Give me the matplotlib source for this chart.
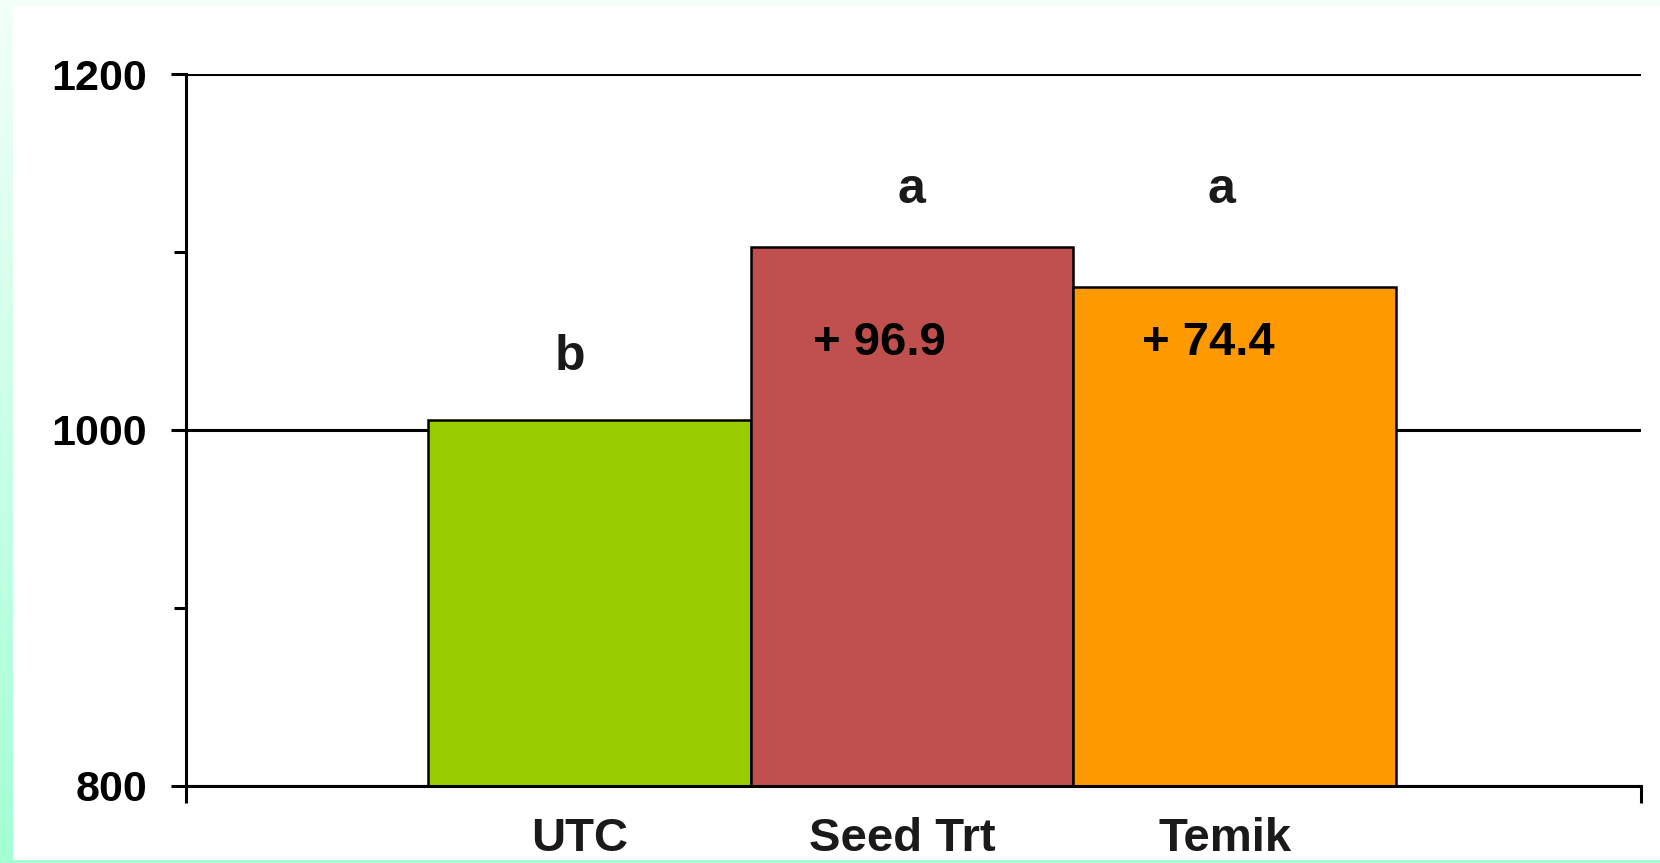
import numpy as np
import matplotlib.pyplot as plt
from matplotlib.patches import Rectangle
from matplotlib.colors import LinearSegmentedColormap

plt.rcParams['font.family'] = ['Liberation Sans', 'DejaVu Sans']
plt.rcParams['font.weight'] = 'bold'

categories = ["UTC", "Seed Trt", "Temik"]
yields = [1005.7, 1102.6, 1080.1]
colors = ["#99CC00", "#C0504D", "#FF9900"]
sig_letters = ["b", "a", "a"]
gains = ["", "+ 96.9", "+ 74.4"]

# text placement (data coords: x offset from bar centre, y baseline)
letter_pos = [(-0.06, 1033.6), (0.0, 1127.4), (-0.04, 1127.4)]
gain_pos = [(0, 0), (-0.1, 1042.0), (-0.08, 1042.0)]

fig = plt.figure(figsize=(16.6, 8.63), dpi=100)

# mint gradient frame behind a white panel
bg = fig.add_axes([0, 0, 1, 1])
bg.set_axis_off()
cmap = LinearSegmentedColormap.from_list("mint", ["#f2fff9", "#a2ffd4"])
bg.imshow(np.linspace(0, 1, 256).reshape(-1, 1), aspect="auto", cmap=cmap,
          extent=[0, 1, 0, 1])
bg.set_xlim(0, 1)
bg.set_ylim(0, 1)
fig.patches.append(Rectangle((13 / 1660, 3 / 863), 1 - 13 / 1660, 1 - 9 / 863,
                             transform=fig.transFigure, facecolor="white",
                             edgecolor="none", zorder=1))

ax = fig.add_axes([186 / 1660, 1 - 785.5 / 863, (1641 - 186) / 1660, (785.5 - 74) / 863])
ax.set_zorder(2)
x = np.arange(len(categories))
ax.bar(x, [v - 800 for v in yields], bottom=800, width=1.0, color=colors,
       edgecolor="black", linewidth=1.8, zorder=3)

ax.set_xlim(-1.25, 3.26)
ax.set_ylim(800, 1200)
ax.set_yticks([800, 1000, 1200])
ax.set_yticks([900, 1100], minor=True)
ax.set_yticklabels(["800", "1000", "1200"], fontsize=31, fontweight="bold")
ax.tick_params(axis="y", which="major", length=11, width=2.2, direction="out", pad=17)
ax.tick_params(axis="y", which="minor", length=8.5, width=2.2, direction="out")
ax.set_xticks([-1.25, 3.26])
ax.set_xticklabels([])
ax.tick_params(axis="x", length=12, width=2.2, direction="out")

ax.yaxis.grid(True, which="major", color="black", linewidth=2.2, zorder=0)
ax.set_axisbelow(True)
for side in ["top", "right"]:
    ax.spines[side].set_visible(False)
for side in ["left", "bottom"]:
    ax.spines[side].set_linewidth(2.2)
    ax.spines[side].set_zorder(4)

for i, cat in enumerate(categories):
    ax.text(i - 0.03, -65 / 711.5, cat, transform=ax.get_xaxis_transform(),
            ha="center", va="baseline", fontsize=34, fontweight="bold",
            color="#1a1a1a", clip_on=False)
    dx, yb = letter_pos[i]
    ax.text(i + dx, yb, sig_letters[i], ha="center", va="baseline",
            fontsize=36, fontweight="bold", color="#1a1a1a", zorder=5)
    if gains[i]:
        gx, gy = gain_pos[i]
        ax.text(i + gx, gy, gains[i], ha="center", va="baseline",
                fontsize=34, fontweight="bold", color="black", zorder=5)

fig.savefig("out.png", dpi=100)
